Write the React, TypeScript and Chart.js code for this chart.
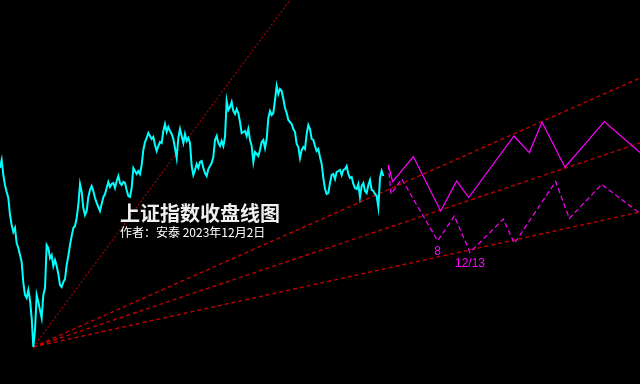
import React, { useEffect, useRef } from "react";
import { Chart, registerables } from "chart.js";

Chart.register(...registerables);

// 上证指数收盘 (sampled closes, one per period index)
const closes: number[] = [
  3360, 3400, 3325, 3275, 3240, 3210, 3125, 3075, 3040, 3060,
  2985, 2960, 2925, 2890, 2785, 2725, 2710, 2750, 2700, 2610,
  2465, 2550, 2725, 2690, 2650, 2610, 2725, 2760, 2975, 2960,
  2910, 2925, 2870, 2900, 2870, 2830, 2775, 2765, 2790, 2805,
  2875, 2920, 2975, 3020, 3060, 3070, 3110, 3175, 3280, 3240,
  3160, 3125, 3145, 3215, 3250, 3270, 3245, 3210, 3185, 3165,
  3145, 3180, 3215, 3230, 3260, 3290, 3265, 3280, 3285, 3260,
  3295, 3320, 3285, 3275, 3290, 3285, 3250, 3220,
  3215, 3260, 3360, 3345, 3330, 3345, 3330, 3375, 3450, 3490,
  3510, 3535, 3520, 3505, 3515, 3475, 3445, 3470, 3490, 3485,
  3545, 3580, 3540, 3565, 3545, 3530, 3505, 3460, 3410, 3510,
  3555, 3520, 3485, 3530, 3495, 3510, 3485, 3370, 3325, 3350,
  3380, 3360, 3390, 3395, 3360, 3335, 3320, 3355, 3370, 3385,
  3415, 3500, 3520, 3485, 3470, 3495, 3470, 3515, 3695, 3650,
  3665, 3690, 3645, 3630, 3655, 3635, 3590, 3535, 3540, 3545,
  3520, 3555,
  3500, 3470, 3390, 3440, 3430, 3420, 3450, 3490, 3500, 3460,
  3505, 3610, 3645, 3625, 3635, 3700, 3770, 3730, 3755, 3745,
  3705, 3660, 3635, 3600, 3590, 3580, 3555, 3540, 3480, 3465,
  3410, 3450, 3465, 3455, 3530, 3575, 3555, 3505, 3500, 3470,
  3445, 3455, 3415, 3380, 3310, 3255, 3230, 3235, 3285, 3325,
  3330, 3305, 3340, 3345, 3350, 3325, 3350, 3355, 3370, 3330,
  3310, 3315, 3280, 3260, 3255, 3280, 3215, 3270, 3285, 3245,
  3235, 3275, 3300, 3250, 3245, 3230, 3220, 3165, 3310, 3345,
  3320,
];

// Fan lines from the low point
const fanEndX: number[] = [174, 384, 384, 384];
const fanEndY: number[] = [4200, 3810, 3485, 3140];

// Projections (solid and dashed magenta zigzags)
const projSolidX: number[] = [233, 235.6, 248, 264.4, 274, 281.2, 308.4, 317.6, 325.2, 339, 362.6, 384];
const projSolidY: number[] = [3375, 3292, 3417, 3145, 3295, 3212, 3520, 3437, 3589, 3364, 3592, 3437];
const projDashX: number[] = [233, 234.6, 241, 262.6, 272.6, 282, 302, 308.6, 333.4, 341.6, 361, 384];
const projDashY: number[] = [3375, 3230, 3305, 2996, 3120, 2938, 3105, 2983, 3292, 3108, 3278, 3133];
const projLabelText: string[] = ["8", "12/13"];
const projLabelAt: number[] = [3, 5];

const titleText = "上证指数收盘线图";
const subtitleText = "作者：安泰 2023年12月2日";

export default function App() {
  const ref = useRef<HTMLCanvasElement | null>(null);

  useEffect(() => {
    document.body.style.margin = "0";
    document.body.style.background = "#000";
    const canvas = ref.current!;
    let lowIdx = 0;
    closes.forEach((v, i) => {
      if (v < closes[lowIdx]) lowIdx = i;
    });
    const origin = { x: lowIdx, y: closes[lowIdx] };

    const fanSets = fanEndX.map((ex, i) => ({
      data: [origin, { x: ex, y: fanEndY[i] }],
      borderColor: i === 0 ? "#a00000" : "#c00000",
      borderWidth: i === 0 ? 1.2 : 1.4,
      borderDash: i === 0 ? [2, 2] : [4, 3],
      pointRadius: 0,
      order: 5,
    }));

    const bgPlugin = {
      id: "bg",
      beforeDraw(chart: any) {
        const c = chart.ctx;
        c.save();
        c.fillStyle = "#000";
        c.fillRect(0, 0, chart.width, chart.height);
        c.restore();
      },
    };

    const textPlugin = {
      id: "texts",
      afterDatasetsDraw(chart: any) {
        const c = chart.ctx;
        const xs = chart.scales.x;
        const ys = chart.scales.y;
        c.save();
        c.fillStyle = "#ff00ff";
        c.font = "12px 'Liberation Sans', Arial, sans-serif";
        c.textAlign = "center";
        c.textBaseline = "middle";
        projLabelText.forEach((t, i) => {
          const j = projLabelAt[i];
          const px = xs.getPixelForValue(projDashX[j]);
          const py = ys.getPixelForValue(projDashY[j]);
          c.fillText(t, px, py + 11);
        });
        c.textAlign = "left";
        c.fillStyle = "#f0f0f0";
        c.font = "bold 20px 'Noto Sans CJK SC', sans-serif";
        c.fillText(titleText, 120, 213);
        c.fillStyle = "#ffffff";
        c.font = "12px 'Noto Sans CJK SC', sans-serif";
        c.fillText(subtitleText, 120, 232);
        c.restore();
      },
    };

    const chart = new Chart(canvas, {
      type: "line",
      data: {
        datasets: [
          {
            data: closes.map((v, i) => ({ x: i, y: v })),
            borderColor: "#00ffff",
            borderWidth: 2,
            pointRadius: 0,
            tension: 0,
            order: 1,
          },
          {
            data: projSolidX.map((x, i) => ({ x, y: projSolidY[i] })),
            borderColor: "#ff00ff",
            borderWidth: 1.2,
            pointRadius: 0,
            order: 2,
          },
          {
            data: projDashX.map((x, i) => ({ x, y: projDashY[i] })),
            borderColor: "#ff00ff",
            borderWidth: 1.2,
            borderDash: [5, 3],
            pointRadius: 0,
            order: 3,
          },
          ...fanSets,
        ] as any,
      },
      options: {
        animation: false,
        responsive: false,
        maintainAspectRatio: false,
        devicePixelRatio: 1,
        layout: { padding: 0 },
        scales: {
          x: { type: "linear", min: 0, max: 384, display: false },
          y: { type: "linear", min: 2280, max: 4200, display: false },
        },
        plugins: {
          legend: { display: false },
          tooltip: { enabled: false },
          title: { display: false },
        },
      },
      plugins: [bgPlugin, textPlugin],
    });
    return () => chart.destroy();
  }, []);

  return (
    <div style={{ position: "fixed", left: 0, top: 0, width: 640, height: 384, background: "#000" }}>
      <canvas ref={ref} width={640} height={384} style={{ display: "block", width: 640, height: 384 }} />
    </div>
  );
}
